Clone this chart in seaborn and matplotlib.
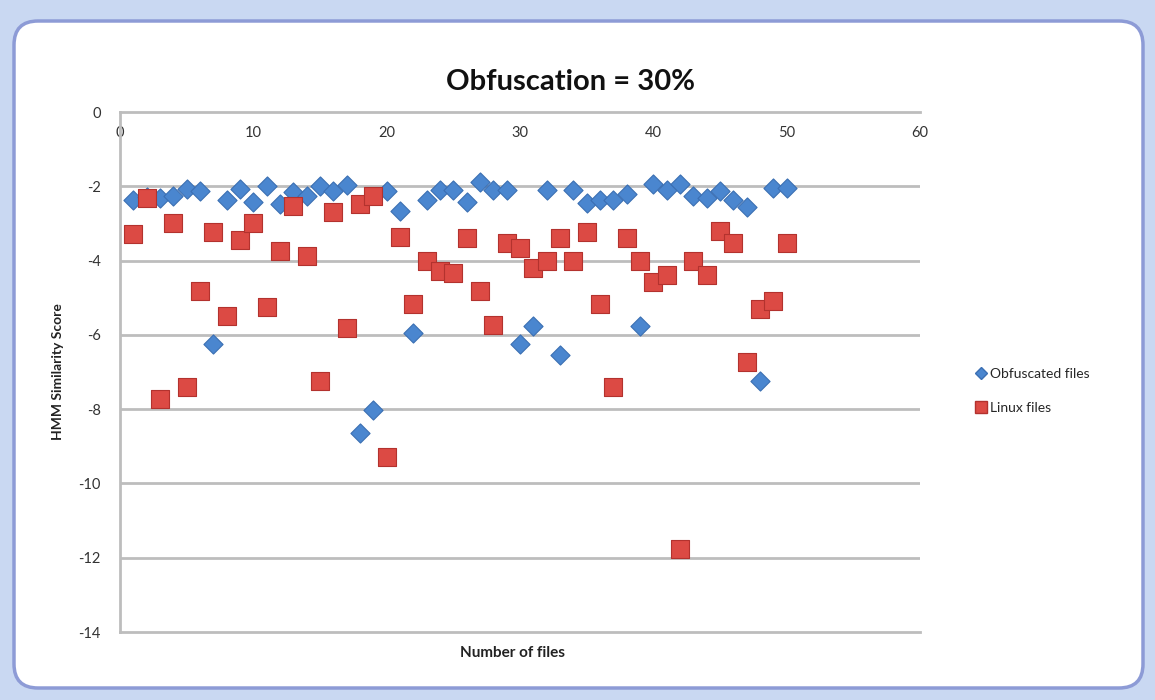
import matplotlib
matplotlib.use("Agg")
import matplotlib.pyplot as plt
from matplotlib.patches import FancyBboxPatch
from matplotlib.transforms import IdentityTransform
from matplotlib.lines import Line2D
import seaborn as sns
import pandas as pd
import numpy as np

# data
files = list(range(1, 51))
obfuscated = [-2.36, -2.30, -2.31, -2.25, -2.07, -2.13, -6.25, -2.36, -2.07, -2.42,
              -2.00, -2.47, -2.16, -2.25, -1.98, -2.13, -1.96, -8.65, -8.02, -2.13,
              -2.66, -5.96, -2.37, -2.09, -2.09, -2.43, -1.89, -2.11, -2.11, -6.25,
              -5.75, -2.11, -6.55, -2.11, -2.44, -2.37, -2.37, -2.22, -5.75, -1.93,
              -2.11, -1.93, -2.27, -2.31, -2.13, -2.36, -2.55, -7.24, -2.04, -2.04]
linux = [-3.28, -2.31, -7.73, -3.00, -7.41, -4.83, -3.24, -5.48, -3.44, -3.00,
         -5.26, -3.73, -2.54, -3.87, -7.23, -2.69, -5.81, -2.47, -2.27, -9.28,
         -3.37, -5.16, -4.00, -4.29, -4.33, -3.40, -4.83, -5.73, -3.53, -3.67,
         -4.20, -4.00, -3.40, -4.00, -3.24, -5.18, -7.40, -3.38, -4.00, -4.58,
         -4.38, -11.76, -4.00, -4.38, -3.20, -3.53, -6.73, -5.31, -5.09, -3.53]
series_names = ["Obfuscated files", "Linux files"]
y_ticks = [0, -2, -4, -6, -8, -10, -12, -14]
x_ticks = [0, 10, 20, 30, 40, 50, 60]

df_obf = pd.DataFrame({"file": files, "score": obfuscated, "series": series_names[0]})
df_lin = pd.DataFrame({"file": files, "score": linux, "series": series_names[1]})

sns.set_style("white")
plt.rcParams["font.family"] = ["Lato", "DejaVu Sans"]

fig = plt.figure(figsize=(11.55, 7), dpi=100)
fig.patch.set_facecolor("#c9d8f2")

# excel style rounded chart frame
frame = FancyBboxPatch((14, 12), 1129, 667,
                       boxstyle="round,pad=0,rounding_size=24",
                       transform=IdentityTransform(),
                       facecolor="white", edgecolor="#8d9bd6", linewidth=2.5,
                       zorder=-5)
fig.patches.append(frame)

ax = fig.add_axes([120 / 1155, 1 - 632 / 700, 800 / 1155, 520 / 700])
ax.set_facecolor("none")
ax.set_zorder(2)

blue = "#4a86cf"
red = "#dc4a44"

sns.scatterplot(data=df_obf, x="file", y="score", marker="D", s=95,
                color=blue, edgecolor="#3b6fb3", linewidth=0.8, ax=ax,
                legend=False, zorder=3)
sns.scatterplot(data=df_lin, x="file", y="score", marker="s", s=185,
                color=red, edgecolor="#b3322e", linewidth=0.8, ax=ax,
                legend=False, zorder=4)

ax.set_xlim(0, 60)
ax.set_ylim(-14, 0)
ax.set_yticks(y_ticks)
ax.set_xticks(x_ticks)
ax.set_yticklabels([str(v) for v in y_ticks])

# horizontal gridlines
for v in y_ticks[1:-1]:
    ax.axhline(v, color="#bdbdbd", linewidth=2, zorder=1)

ax.spines["right"].set_visible(False)
for side in ["left", "top", "bottom"]:
    ax.spines[side].set_color("#bdbdbd")
    ax.spines[side].set_linewidth(2)

ax.xaxis.tick_top()
ax.tick_params(axis="x", length=0, pad=-20, labelsize=10.5, colors="#333333")
ax.tick_params(axis="y", length=0, pad=14, labelsize=10.5, colors="#333333")

ax.set_xlabel("")
ax.set_ylabel("")
fig.text(513 / 1155, 1 - 653 / 700, "Number of files", ha="center", va="center",
         fontsize=11, fontweight="bold", color="#222222")
fig.text(58 / 1155, 1 - 372 / 700, "HMM Similarity Score", ha="center", va="center",
         rotation=90, fontsize=10, fontweight="bold", color="#222222")
fig.text(570 / 1155, 1 - 82 / 700, "Obfuscation = 30%", ha="center", va="center",
         fontsize=21, fontweight="bold", color="#111111")

handles = [
    Line2D([], [], marker="D", linestyle="none", markersize=6,
           markerfacecolor=blue, markeredgecolor="#3b6fb3"),
    Line2D([], [], marker="s", linestyle="none", markersize=8,
           markerfacecolor=red, markeredgecolor="#b3322e"),
]
fig.legend(handles, series_names, loc="center left",
           bbox_to_anchor=(962 / 1155, 1 - 391 / 700), frameon=False,
           fontsize=10, handletextpad=0.1, labelspacing=1.6,
           handlelength=1.0)

fig.savefig("out.png", dpi=100, facecolor=fig.get_facecolor())
